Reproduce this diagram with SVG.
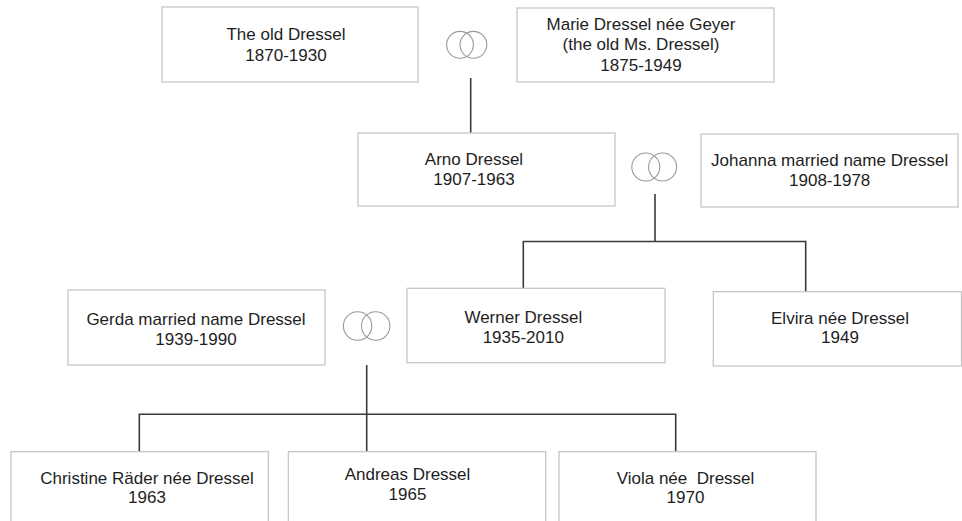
<svg xmlns="http://www.w3.org/2000/svg" width="962" height="521" viewBox="0 0 962 521">
  <style>
    .box { fill: #ffffff; stroke: #c2c2c2; stroke-width: 1.2; }
    .lbl { font-family: "Liberation Sans", Arial, sans-serif; font-size: 17px; fill: #1e1e1e; text-anchor: middle; }
    .conn { fill: none; stroke: #3a3a3a; stroke-width: 1.6; }
    .ring { fill: none; stroke: #9a9a9a; stroke-width: 1.1; }
  </style>
  <rect width="962" height="521" fill="#ffffff"/>

  <g id="connectors">
    <path class="conn" d="M470.7,78 V132.7"/>
    <path class="conn" d="M655,194 V241.5 M523.3,288.3 V241.5 H805.7 V291.7"/>
    <path class="conn" d="M366.7,365 V451.7 M139.3,451.7 V414.3 H675.7 V451.7"/>
  </g>

  <g id="marriage1">
    <circle class="ring" cx="460" cy="44.8" r="13.4"/>
    <circle class="ring" cx="473.4" cy="44.8" r="13.4"/>
  </g>
  <g id="marriage2">
    <circle class="ring" cx="645.8" cy="167" r="14"/>
    <circle class="ring" cx="662.6" cy="167" r="14"/>
  </g>
  <g id="marriage3">
    <circle class="ring" cx="357.6" cy="326" r="14.2"/>
    <circle class="ring" cx="375.7" cy="326" r="14.2"/>
  </g>

  <g id="old-dressel">
    <rect class="box" x="162" y="7" width="256" height="75"/>
    <text class="lbl" x="286" y="40.3">The old Dressel</text>
    <text class="lbl" x="286" y="61">1870-1930</text>
  </g>

  <g id="marie">
    <rect class="box" x="517" y="8" width="257" height="74"/>
    <text class="lbl" x="641" y="30">Marie Dressel née Geyer</text>
    <text class="lbl" x="641" y="50">(the old Ms. Dressel)</text>
    <text class="lbl" x="641" y="70.7">1875-1949</text>
  </g>

  <g id="arno">
    <rect class="box" x="358" y="133" width="257" height="73"/>
    <text class="lbl" x="474" y="165">Arno Dressel</text>
    <text class="lbl" x="474" y="184.5">1907-1963</text>
  </g>

  <g id="johanna">
    <rect class="box" x="701" y="134" width="257" height="73"/>
    <text class="lbl" x="829.7" y="165.7">Johanna married name Dressel</text>
    <text class="lbl" x="829.7" y="185.7">1908-1978</text>
  </g>

  <g id="gerda">
    <rect class="box" x="68" y="290" width="257" height="75"/>
    <text class="lbl" x="196" y="325">Gerda married name Dressel</text>
    <text class="lbl" x="196" y="345">1939-1990</text>
  </g>

  <g id="werner">
    <rect class="box" x="407" y="288.3" width="258" height="74.4"/>
    <text class="lbl" x="523.3" y="323">Werner Dressel</text>
    <text class="lbl" x="523.3" y="343">1935-2010</text>
  </g>

  <g id="elvira">
    <rect class="box" x="713.3" y="291.7" width="248.2" height="74.3"/>
    <text class="lbl" x="840" y="323.5">Elvira née Dressel</text>
    <text class="lbl" x="840" y="343.3">1949</text>
  </g>

  <g id="christine">
    <rect class="box" x="11" y="451.7" width="257.3" height="80"/>
    <text class="lbl" x="147" y="483.7">Christine Räder née Dressel</text>
    <text class="lbl" x="147" y="502.7">1963</text>
  </g>

  <g id="andreas">
    <rect class="box" x="288.3" y="451.7" width="257.4" height="80"/>
    <text class="lbl" x="407.5" y="480">Andreas Dressel</text>
    <text class="lbl" x="407.5" y="500">1965</text>
  </g>

  <g id="viola">
    <rect class="box" x="559" y="451.7" width="257" height="80"/>
    <text class="lbl" x="685.5" y="483.7" xml:space="preserve" style="white-space:pre">Viola née  Dressel</text>
    <text class="lbl" x="685.5" y="502.7">1970</text>
  </g>
</svg>
